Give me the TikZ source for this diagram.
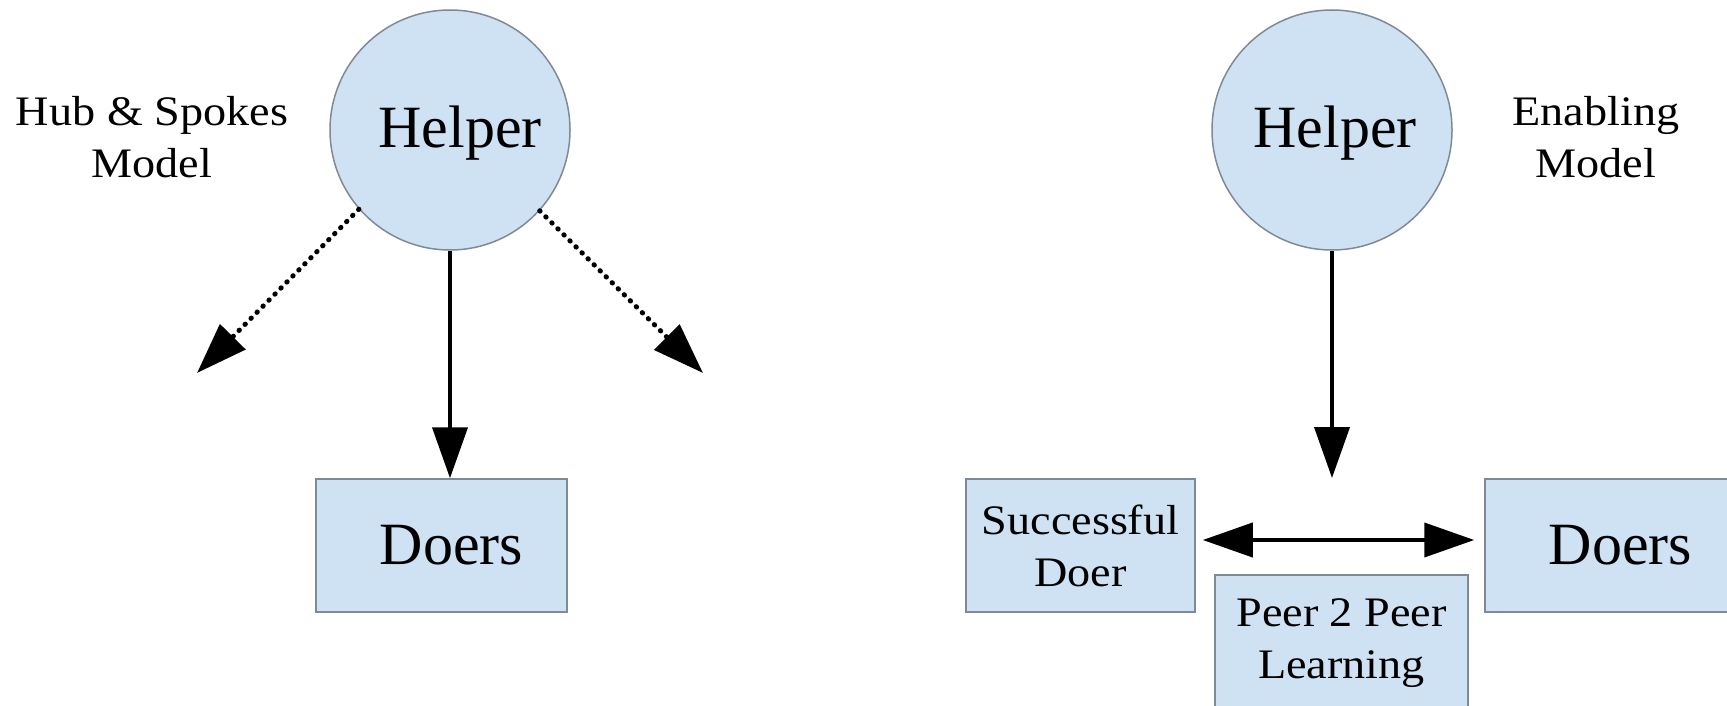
\documentclass[tikz,border=0pt]{standalone}
\usepackage{fontspec}
\setmainfont{Liberation Serif}
\newfontfamily\smallfam[FakeStretch=1.1]{Liberation Serif}
\usetikzlibrary{arrows.meta}
\definecolor{boxfill}{RGB}{207,226,243}
\definecolor{boxline}{RGB}{128,138,150}
\begin{document}
\begin{tikzpicture}[x=1pt,y=-1pt,
  helper/.style={circle, draw=boxline, line width=1.5pt, fill=boxfill, minimum size=240pt, inner sep=0pt,
    font=\fontsize{60}{70}\selectfont, text height=41pt, text depth=5pt},
  box/.style={rectangle, draw=boxline, line width=1.5pt, fill=boxfill, inner sep=0pt, align=center},
  bigtext/.style={font=\fontsize{60}{70}\selectfont},
  smalltext/.style={font=\smallfam\fontsize{42}{52}\selectfont, align=center},
  arr/.style={line width=4pt, -{Triangle[length=51pt,width=35pt]}},
  dotarr/.style={line width=5pt, line cap=round, dash pattern=on 0.5pt off 8pt, -{Triangle[length=51pt,width=35pt]}},
  dblarr/.style={line width=4pt, {Triangle[length=50pt,width=34pt]}-{Triangle[length=50pt,width=34pt]}}
]
\useasboundingbox (0,0) rectangle (1727,706);
\clip (0,0) rectangle (1727,706);
\fill[white] (0,0) rectangle (1727,706);

\node[helper] (hl) at (450,130) {\hspace*{20pt}Helper};
\node[helper] (hr) at (1332,130) {\hspace*{6pt}Helper};
\node[smalltext] (hubt) at (152,137) {Hub \& Spokes\\Model};
\node[smalltext] (enat) at (1596,137.5) {Enabling\\Model};

\node[box, bigtext, minimum width=251pt, minimum height=133pt] (dl) at (441.5,545.5) {\hspace*{20pt}Doers};
\node[box, bigtext, minimum width=251pt, minimum height=133pt] (dr) at (1610.5,545.5) {\hspace*{20pt}Doers};
\node[box, smalltext, minimum width=229pt, minimum height=133pt] (sd) at (1080.5,545.5) {Successful\\Doer};
\node[box, smalltext, minimum width=253pt, minimum height=137pt] (pp) at (1341.5,643.5) {Peer 2 Peer\\Learning};

\coordinate (rtip) at (1332,478);
\coordinate (tipL) at (197,373);
\coordinate (tipR) at (703,373);

\draw[arr] (hl.south) -- (hl.south |- dl.north);
\draw[arr] (hr.south) -- (rtip);
\draw[dotarr] (hl.221.6) -- (tipL);
\draw[dotarr] (hl.318.4) -- (tipR);
\draw[dblarr, shorten <=7pt, shorten >=10pt] ([yshift=5.5pt]sd.east) -- ([yshift=5.5pt]dr.west);
\end{tikzpicture}
\end{document}
